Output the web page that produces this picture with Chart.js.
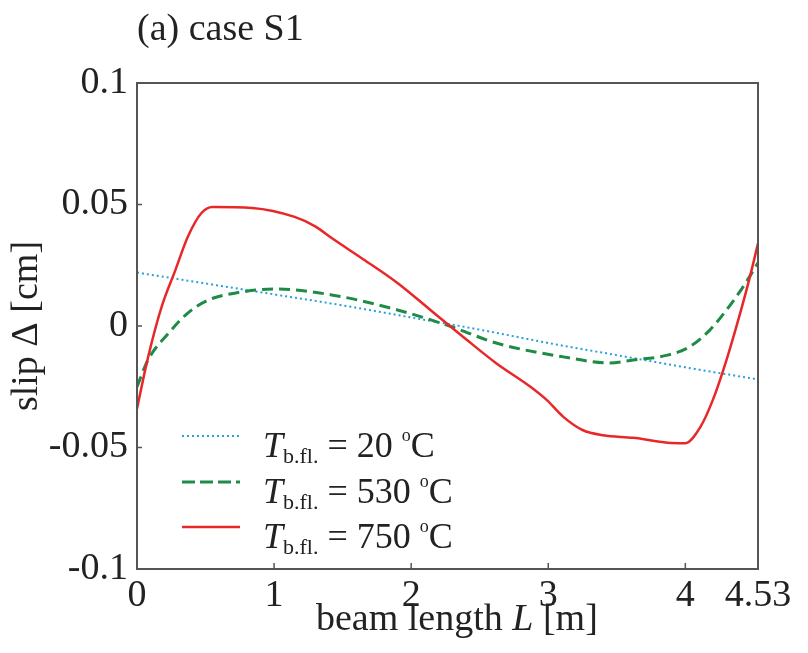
<!DOCTYPE html>
<html lang="en">
<head>
    <meta charset="UTF-8">
    <title>slip - case S1</title>
    <script src="https://cdn.jsdelivr.net/npm/chart.js@4.4.1/dist/chart.umd.min.js"></script>
    <style>
        body { margin: 0; background: #fff; }
        #wrap { position: relative; width: 808px; height: 653px; font-family: "Liberation Serif", serif; color: #222; }
        .lbl { position: absolute; font-size: 38px; line-height: 38px; white-space: nowrap; }
        .leg { position: absolute; left: 180px; height: 40px; }
        .leg canvas { position: absolute; left: 0; top: 10px; }
        .leg span { position: absolute; left: 83px; top: 0; font-size: 36px; line-height: 38px; white-space: nowrap; }
        .leg sub { font-size: 22px; vertical-align: -6px; }
        .leg sup { font-size: 18px; vertical-align: 16px; }
    </style>
</head>
<body>
<div id="wrap">
    <canvas id="chart1" width="808" height="653"></canvas>
    <div class="lbl" style="left:137px; top:8px;">(a) case S1</div>
    <div class="lbl" id="xTitle" style="left:316px; top:598px;">beam length <i>L</i> [m]</div>
    <div class="leg" style="top:416px;"><canvas id="leg0" width="62" height="20"></canvas><span><i>T</i><sub>b.fl.</sub> = 20 <sup>o</sup>C</span></div>
    <div class="leg" style="top:462px;"><canvas id="leg1" width="62" height="20"></canvas><span><i>T</i><sub>b.fl.</sub> = 530 <sup>o</sup>C</span></div>
    <div class="leg" style="top:507px;"><canvas id="leg2" width="62" height="20"></canvas><span><i>T</i><sub>b.fl.</sub> = 750 <sup>o</sup>C</span></div>
</div>
<script>
    // beam length positions [m] and slip [cm]
    var blueX  = [0, 0.5, 1.0, 1.5, 2.0, 2.5, 3.0, 3.5, 4.0, 4.53];
    var blueY  = [0.022, 0.0175, 0.013, 0.0085, 0.0035, -0.0015, -0.007, -0.012, -0.017, -0.022];

    var greenX = [0, 0.08, 0.23, 0.37, 0.52, 0.72, 1.01, 1.42, 1.90, 2.30, 2.62, 3.11, 3.45, 3.62, 3.87, 4.03, 4.18, 4.30, 4.42, 4.53];
    var greenY = [-0.025, -0.014, -0.003, 0.0053, 0.0107, 0.0136, 0.0152, 0.0128, 0.0066, -0.0004, -0.007, -0.0127, -0.0152, -0.014, -0.012, -0.0086, -0.0016, 0.0066, 0.016, 0.026];

    var redX   = [0, 0.08, 0.18, 0.28, 0.37, 0.47, 0.55, 0.84, 1.15, 1.30, 1.42, 1.65, 1.90, 2.14, 2.38, 2.62, 2.87, 2.99, 3.11, 3.25, 3.40, 3.62, 3.87, 4.00, 4.11, 4.20, 4.30, 4.40, 4.47, 4.53];
    var redY   = [-0.034, -0.013, 0.008, 0.023, 0.0366, 0.0465, 0.049, 0.0486, 0.0449, 0.041, 0.0362, 0.0275, 0.0177, 0.0066, -0.0045, -0.0153, -0.025, -0.0305, -0.0374, -0.0428, -0.045, -0.046, -0.048, -0.0482, -0.0415, -0.0305, -0.014, 0.0053, 0.020, 0.034];

    var xTicks = [0, 1, 2, 3, 4, 4.53];
    var xTickLabels = ["0", "1", "2", "3", "4", "4.53"];
    var yTicks = [-0.1, -0.05, 0, 0.05, 0.1];
    var yTickLabels = ["-0.1", "-0.05", "0", "0.05", "0.1"];

    var colors = {
        blue: "rgb(40, 160, 220)",
        green: "rgb(30, 140, 70)",
        red: "rgb(232, 40, 40)"
    };
    var axisColor = "#555";
    var textColor = "#222";
    var fontFamily = "'Liberation Serif', serif";

    function toPoints(xs, ys) {
        return xs.map((x, i) => ({x: x, y: ys[i]}));
    }

    // box around the plot and inward tick marks
    var frame = {
        id: 'frame',
        afterDraw(chart) {
            let ctx = chart.ctx;
            let a = chart.chartArea;
            let xs = chart.scales.x, ys = chart.scales.y;
            ctx.save();
            ctx.strokeStyle = axisColor;
            ctx.lineWidth = 2;
            ctx.strokeRect(a.left, a.top, a.right - a.left, a.bottom - a.top);
            ctx.lineWidth = 1.5;
            ctx.beginPath();
            xTicks.forEach(v => {
                let px = xs.getPixelForValue(v);
                ctx.moveTo(px, a.bottom);
                ctx.lineTo(px, a.bottom - 6);
            });
            yTicks.forEach(v => {
                let py = ys.getPixelForValue(v);
                ctx.moveTo(a.left, py);
                ctx.lineTo(a.left + 5, py);
            });
            ctx.stroke();
            ctx.restore();
        }
    };

    var ctx1 = document.getElementById('chart1').getContext('2d');
    window.chart1 = new Chart(ctx1, {
        type: 'line',
        data: {
            datasets: [
            {
                label: "20 °C",
                data: toPoints(blueX, blueY),
                borderColor: colors.blue,
                borderWidth: 2,
                borderDash: [2, 3],
                order: 2
            },
            {
                label: "530 °C",
                data: toPoints(greenX, greenY),
                borderColor: colors.green,
                borderWidth: 3,
                borderDash: [11, 6],
                order: 1
            },
            {
                label: "750 °C",
                data: toPoints(redX, redY),
                borderColor: colors.red,
                borderWidth: 2.5,
                order: 0
            }
            ]
        },
        options: {
            responsive: false,
            animation: false,
            layout: {
                padding: {left: 0, top: 83, right: 50, bottom: 0}
            },
            elements: {
                point: { radius: 0 },
                line: { cubicInterpolationMode: 'monotone', fill: false }
            },
            plugins: {
                legend: { display: false },
                tooltip: { enabled: false }
            },
            scales: {
                x: {
                    type: 'linear',
                    min: 0,
                    max: 4.53,
                    grid: { display: false, drawTicks: false },
                    border: { display: false },
                    afterBuildTicks: (scale) => { scale.ticks = xTicks.map(v => ({value: v})); },
                    afterFit: (scale) => { scale.height = 84; },
                    ticks: {
                        autoSkip: false,
                        maxRotation: 0,
                        padding: 4,
                        color: textColor,
                        font: { family: fontFamily, size: 38 },
                        callback: (value, index) => xTickLabels[index]
                    }
                },
                y: {
                    min: -0.1,
                    max: 0.1,
                    grid: { display: false, drawTicks: false },
                    border: { display: false },
                    afterBuildTicks: (scale) => { scale.ticks = yTicks.map(v => ({value: v})); },
                    afterFit: (scale) => { scale.width = 137; },
                    ticks: {
                        autoSkip: false,
                        padding: 9,
                        color: textColor,
                        font: { family: fontFamily, size: 38 },
                        callback: (value, index) => yTickLabels[index]
                    },
                    title: {
                        display: true,
                        text: "slip \u0394 [cm]",
                        color: textColor,
                        font: { family: fontFamily, size: 38 },
                        padding: { top: 4, bottom: 0 }
                    }
                }
            }
        },
        plugins: [frame]
    });

    // legend line samples
    var legendStyles = [
        {color: colors.blue, width: 2, dash: [2, 3]},
        {color: colors.green, width: 3, dash: [13, 5]},
        {color: colors.red, width: 2.5, dash: []}
    ];
    legendStyles.forEach((s, i) => {
        let c = document.getElementById('leg' + i).getContext('2d');
        c.strokeStyle = s.color;
        c.lineWidth = s.width;
        c.setLineDash(s.dash);
        c.beginPath();
        c.moveTo(2, 10);
        c.lineTo(60, 10);
        c.stroke();
    });
</script>
</body>
</html>
